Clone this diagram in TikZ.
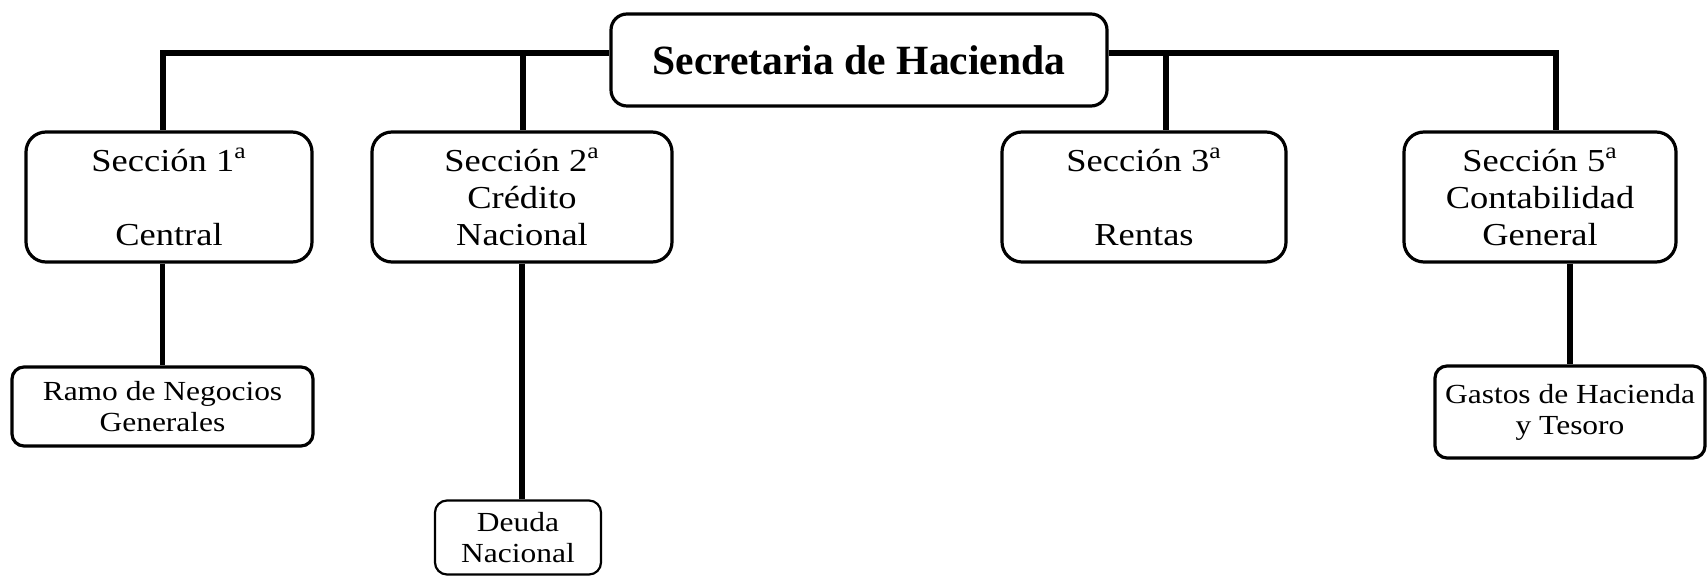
\documentclass[tikz,border=0pt]{standalone}
\usepackage{fontspec}
\setmainfont[FakeStretch=1.14]{Liberation Serif}
\newfontfamily\titlefont{Liberation Serif}
\begin{document}
\begin{tikzpicture}[x=0.5pt,y=-0.5pt,
        seccion/.style={draw,line width=1.6pt,rounded corners=10pt,align=center,
            inner sep=0pt,minimum height=65pt,font=\fontsize{16}{18.5}\selectfont},
        ramo/.style={draw,line width=1.6pt,rounded corners=6pt,align=center,
            inner sep=0pt,font=\fontsize{13.8}{15.5}\selectfont},
        conn/.style={line width=2.6pt}]
        \useasboundingbox (0,0) rectangle (1707,576);

        % the main office
        \node[draw,line width=1.6pt,rounded corners=8pt,minimum width=248pt,minimum height=46pt,
              font=\titlefont\bfseries\fontsize{20.8}{24}\selectfont] (top) at (859,60) {Secretaria de Hacienda};

        % the sections
        \node[seccion,minimum width=143pt] (s1) at (169,197) {Secci\'on 1\textsuperscript{a}\\[18.5pt]Central};
        \node[seccion,minimum width=150pt] (s2) at (522,197) {Secci\'on 2\textsuperscript{a}\\Cr\'edito\\Nacional};
        \node[seccion,minimum width=142pt] (s3) at (1144,197) {Secci\'on 3\textsuperscript{a}\\[18.5pt]Rentas};
        \node[seccion,minimum width=136pt] (s5) at (1540,197) {Secci\'on 5\textsuperscript{a}\\Contabilidad\\General};

        % the branches below
        \node[ramo,minimum width=150.5pt,minimum height=39.5pt] (ramo) at (162.5,406.5) {Ramo de Negocios\\Generales};
        \node[ramo,line width=1.1pt,minimum width=83pt,minimum height=37pt] (deuda) at (518,537.5) {Deuda\\Nacional};
        \node[ramo,minimum width=135pt,minimum height=46pt] (gastos) at (1570,412) {Gastos de Hacienda\\y Tesoro};

        % where the lines turn down
        \coordinate (b1) at (163,53);
        \coordinate (b2) at (523,53);
        \coordinate (b3) at (1166,53);
        \coordinate (b5) at (1556,53);

        % lines from the main office to the sections
        \draw[conn] (top.west |- b1) -- (b1) -- (b1 |- s1.north);
        \draw[conn] (b2) -- (b2 |- s2.north);
        \draw[conn] (top.east |- b5) -- (b5) -- (b5 |- s5.north);
        \draw[conn] (b3) -- (b3 |- s3.north);

        % lines from the sections to the branches
        \draw[conn] (s1.south -| ramo.north) -- (ramo.north);
        \draw[conn] (s2.south) -- (s2.south |- deuda.north);
        \draw[conn] (s5.south -| gastos.north) -- (gastos.north);
\end{tikzpicture}
\end{document}
